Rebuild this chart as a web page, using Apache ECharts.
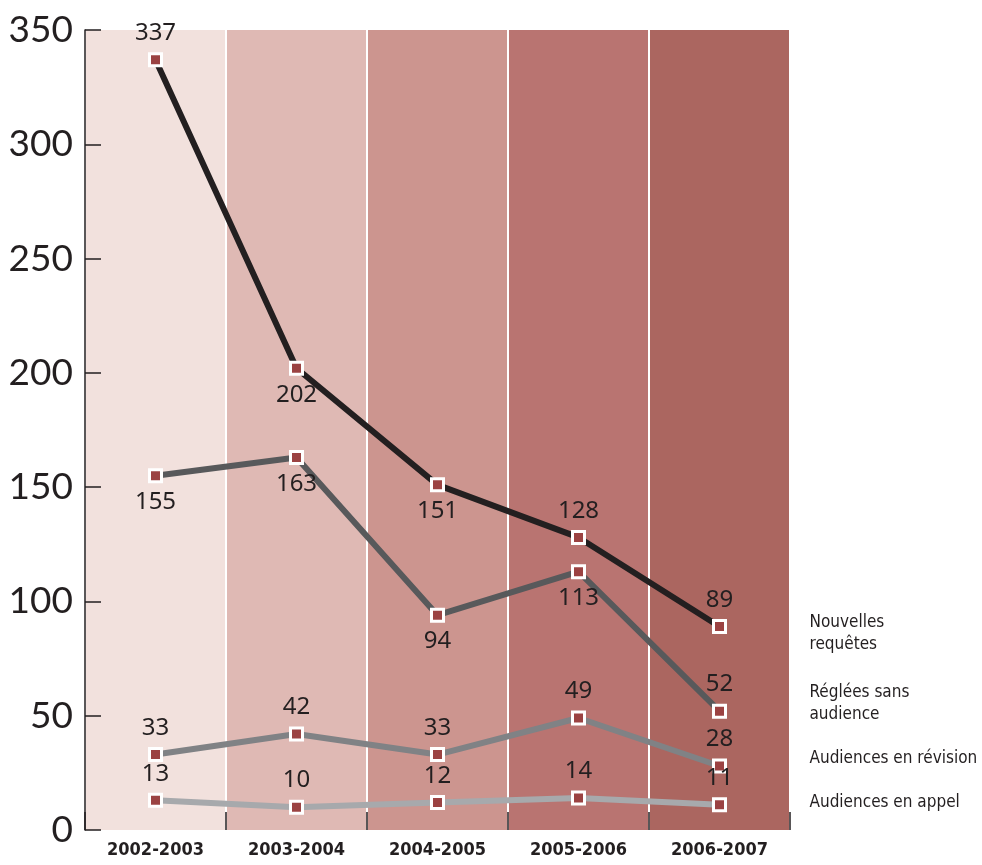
<!DOCTYPE html>
<html>
<head>
<meta charset="utf-8">
<script src="https://cdn.jsdelivr.net/npm/echarts@6/dist/echarts.min.js"></script>
<style>
  html, body { margin: 0; padding: 0; background: #ffffff; }
  #chart { width: 982px; height: 865px; }
</style>
</head>
<body>
<div id="chart"></div>
<script>
// Fiscal years shown on the horizontal axis
const years = ['2002-2003', '2003-2004', '2004-2005', '2005-2006', '2006-2007'];

// Case counts per year
const nouvellesRequetes = [337, 202, 151, 128, 89];
const regleesSansAudience = [155, 163, 94, 113, 52];
const audiencesRevision = [33, 42, 33, 49, 28];
const audiencesAppel = [13, 10, 12, 14, 11];

// Where each value label sits relative to its point
const posNouvelles = ['top', 'bottom', 'bottom', 'top', 'top'];
const posReglees = ['bottom', 'bottom', 'bottom', 'bottom', 'top'];
const posRevision = ['top', 'top', 'top', 'top', 'top'];
const posAppel = ['top', 'top', 'top', 'top', 'top'];

// Y axis ticks
const yMin = 0, yMax = 350, yStep = 50;

const bandColors = ['#f2e1dd', '#dfb9b4', '#cc958f', '#b97471', '#ab6660'];
const numFont = '"Noto Sans", "DejaVu Sans", sans-serif';
const narrowFont = '"DejaVu Sans Condensed", "Liberation Sans Narrow", sans-serif';

function buildData(values, positions) {
  return values.map((v, i) => ({
    value: v,
    label: { position: positions[i] }
  }));
}

function makeSeries(name, legendText, values, positions, color, endOffset) {
  return {
    name: name,
    type: 'line',
    data: buildData(values, positions),
    symbol: 'rect',
    symbolSize: 12,
    lineStyle: { color: color, width: 6 },
    itemStyle: { color: '#9b4242', borderColor: '#ffffff', borderWidth: 3 },
    label: {
      show: true,
      distance: 7,
      fontFamily: numFont,
      fontSize: 24,
      color: '#231f20'
    },
    endLabel: {
      show: true,
      formatter: legendText,
      distance: 90,
      offset: [0, endOffset],
      align: 'left',
      fontFamily: narrowFont,
      fontSize: 17,
      lineHeight: 22,
      color: '#231f20'
    },
    emphasis: { disabled: true },
    z: 3
  };
}

const chart = echarts.init(document.getElementById('chart'), null, { renderer: 'canvas' });

chart.setOption({
  animation: false,
  backgroundColor: '#ffffff',
  grid: { left: 85, right: 192, top: 30, bottom: 35, containLabel: false },
  xAxis: {
    type: 'category',
    data: years,
    boundaryGap: true,
    axisLine: { show: false },
    axisTick: { show: true, inside: true, length: 18, lineStyle: { color: '#231f20', width: 1.5 } },
    axisLabel: {
      fontFamily: narrowFont,
      fontSize: 18,
      fontWeight: 'bold',
      color: '#231f20',
      margin: 11
    },
    splitArea: { show: true, areaStyle: { color: bandColors } },
    splitLine: { show: true, lineStyle: { color: '#ffffff', width: 2 } },
    z: 1
  },
  yAxis: {
    type: 'value',
    min: yMin,
    max: yMax,
    interval: yStep,
    axisLine: { show: true, lineStyle: { color: '#231f20', width: 1.5 } },
    axisTick: { show: true, inside: true, length: 16, lineStyle: { color: '#231f20', width: 1.5 } },
    axisLabel: {
      fontFamily: '"Lato", "Noto Sans", sans-serif',
      fontSize: 37,
      color: '#231f20',
      margin: 12
    },
    splitLine: { show: false },
    z: 2
  },
  series: [
    makeSeries('Nouvelles requêtes', 'Nouvelles\nrequêtes', nouvellesRequetes, posNouvelles, '#231f20', 7),
    makeSeries('Réglées sans audience', 'Réglées sans\naudience', regleesSansAudience, posReglees, '#58595b', -8),
    makeSeries('Audiences en révision', 'Audiences en révision', audiencesRevision, posRevision, '#808285', -7),
    makeSeries('Audiences en appel', 'Audiences en appel', audiencesAppel, posAppel, '#a7a9ac', -2)
  ]
});
</script>
</body>
</html>
